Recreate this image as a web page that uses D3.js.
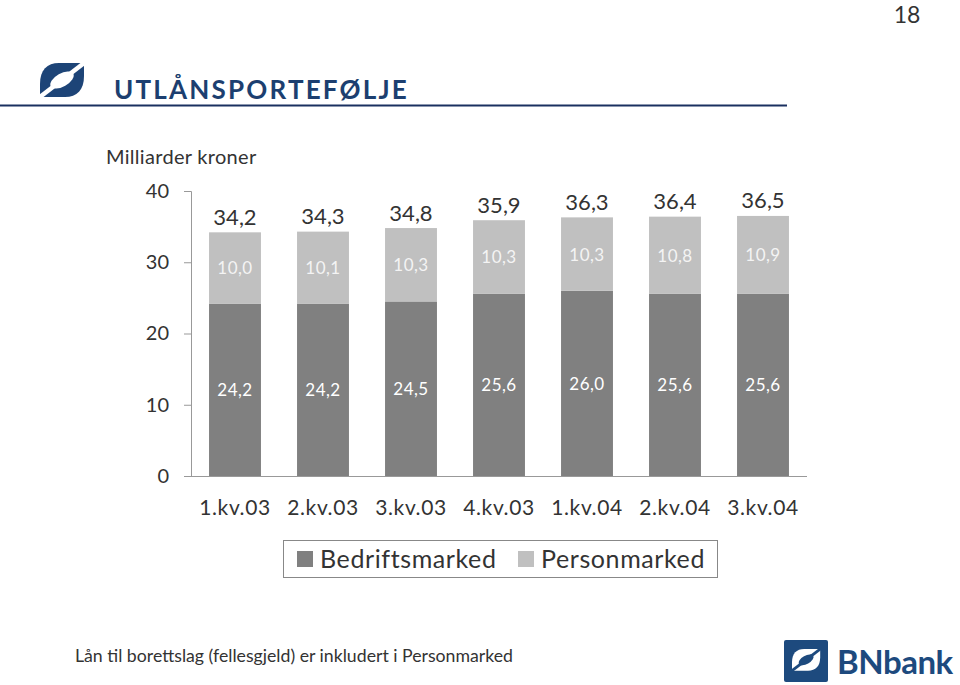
<!DOCTYPE html>
<html><head><meta charset="utf-8">
<script src="https://cdn.jsdelivr.net/npm/d3@7"></script>
<style>
body{margin:0;background:#fff;}
svg{display:block;}
text{font-family:Lato,"Open Sans",sans-serif;}
</style></head>
<body>
<svg id="c" width="960" height="685"></svg>
<script>
const categories = ["1.kv.03","2.kv.03","3.kv.03","4.kv.03","1.kv.04","2.kv.04","3.kv.04"];
const bedriftsmarked = [24.2,24.2,24.5,25.6,26.0,25.6,25.6];
const personmarked = [10.0,10.1,10.3,10.3,10.3,10.8,10.9];
const totals = [34.2,34.3,34.8,35.9,36.3,36.4,36.5];
const yTicks = [0,10,20,30,40];
const seriesNames = ["Bedriftsmarked","Personmarked"];
const colors = {"Bedriftsmarked":"#808080","Personmarked":"#c0c0c0"};
const fmt = v => d3.format(".1f")(v).replace(".", ",");

const svg = d3.select("#c");
const navy = "#1c3f70";
const defs = svg.append("defs");

// page number
svg.append("text").attr("x",907).attr("y",23).attr("text-anchor","middle")
  .attr("font-size",23).attr("fill","#333").text("18");

// logo symbol: oval ring with sharp top-right / bottom-left corners, split by a diagonal slash
function logo(g, fill, id){
  const m = defs.append("mask").attr("id",id).attr("maskUnits","userSpaceOnUse")
    .attr("x",-10).attr("y",-10).attr("width",70).attr("height",60);
  m.append("rect").attr("x",-10).attr("y",-10).attr("width",70).attr("height",60).attr("fill","#fff");
  m.append("ellipse").attr("cx",22).attr("cy",17).attr("rx",13).attr("ry",6.5)
    .attr("transform","rotate(-30,22,17)").attr("fill","#000");
  m.append("line").attr("x1",48).attr("y1",-3).attr("x2",-4).attr("y2",37)
    .attr("stroke","#000").attr("stroke-width",4.5);
  g.append("path")
    .attr("d","M44,0 L44,13 C44,27 37,34 25,34 L0,34 L0,21 C0,7 7,0 19,0 Z")
    .attr("fill",fill).attr("mask",`url(#${id})`);
}
logo(svg.append("g").attr("transform","translate(40,63)"), "#1d4477", "m1");

svg.append("text").attr("x",114).attr("y",99).attr("font-size",26).attr("font-weight","bold")
  .attr("fill",navy).attr("letter-spacing","2.2").text("UTLÅNSPORTEFØLJE");
svg.append("line").attr("x1",0).attr("x2",787).attr("y1",105.5).attr("y2",105.5)
  .attr("stroke","#1a3060").attr("stroke-width",2);

svg.append("text").attr("x",106).attr("y",164).attr("font-size",20).attr("fill","#333")
  .attr("letter-spacing","0.3").text("Milliarder kroner");

// chart
const x = d3.scaleBand().domain(categories).range([191,807]).paddingInner(0.41).paddingOuter(0.205);
const y = d3.scaleLinear().domain([0,40]).range([476,191]);

const yAxis = svg.append("g").attr("transform","translate(191,0)")
  .call(d3.axisLeft(y).tickValues(yTicks).tickSize(7).tickPadding(15).tickFormat(d3.format("d")));
yAxis.select(".domain").attr("stroke","#999").attr("d","M-7,191.5H0.5V476.5");
yAxis.selectAll(".tick line").attr("stroke","#999");
yAxis.selectAll(".tick text").attr("font-size",20).attr("fill","#333").attr("font-family","Lato,sans-serif");

const data = categories.map((c,i)=>({c, b:bedriftsmarked[i], p:personmarked[i], t:totals[i]}));

svg.append("g").selectAll("rect.b").data(data).join("rect")
  .attr("x",d=>x(d.c)).attr("width",x.bandwidth())
  .attr("y",d=>y(d.b)).attr("height",d=>y(0)-y(d.b)).attr("fill",colors.Bedriftsmarked);
svg.append("g").selectAll("rect.p").data(data).join("rect")
  .attr("x",d=>x(d.c)).attr("width",x.bandwidth())
  .attr("y",d=>y(d.b+d.p)).attr("height",d=>y(d.b)-y(d.b+d.p)).attr("fill",colors.Personmarked);

// x axis
const xAxis = svg.append("g").attr("transform","translate(0,476)")
  .call(d3.axisBottom(x).tickSize(0).tickPadding(24));
xAxis.select(".domain").attr("stroke","#999").attr("d","M191,0.5H807");
xAxis.selectAll(".tick text").attr("font-size",21).attr("fill","#333")
  .attr("font-family","Lato,sans-serif").attr("letter-spacing","0.6");

// labels
const lbl = svg.append("g").attr("text-anchor","middle").attr("dominant-baseline","central");
lbl.selectAll("text.t").data(data).join("text")
  .attr("x",d=>x(d.c)+x.bandwidth()/2).attr("y",d=>y(d.t)-16)
  .attr("font-size",22).attr("fill","#333").text(d=>fmt(d.t));
lbl.selectAll("text.p").data(data).join("text")
  .attr("x",d=>x(d.c)+x.bandwidth()/2).attr("y",d=>(y(d.b)+y(d.b+d.p))/2)
  .attr("font-size",17).attr("fill","#f4f4f4").attr("letter-spacing","0.5").text(d=>fmt(d.p));
lbl.selectAll("text.b").data(data).join("text")
  .attr("x",d=>x(d.c)+x.bandwidth()/2).attr("y",d=>(y(0)+y(d.b))/2)
  .attr("font-size",17).attr("fill","#fff").attr("letter-spacing","0.5").text(d=>fmt(d.b));

// legend
const lg = svg.append("g");
lg.append("rect").attr("x",283.5).attr("y",540.5).attr("width",434).attr("height",37)
  .attr("fill","#fff").attr("stroke","#888").attr("stroke-width",1);
const lx = [297, 518];
seriesNames.forEach((s,i)=>{
  lg.append("rect").attr("x",lx[i]).attr("y",551).attr("width",16).attr("height",16).attr("fill",colors[s]);
  lg.append("text").attr("x",lx[i]+23).attr("y",568).attr("font-size",25).attr("fill","#333")
    .attr("letter-spacing","0.6").text(s);
});

// footer
svg.append("text").attr("x",75).attr("y",662).attr("font-size",17.7).attr("fill","#333")
  .text("Lån til borettslag (fellesgjeld) er inkludert i Personmarked");

// BNbank logo
svg.append("rect").attr("x",784).attr("y",640).attr("width",44).attr("height",42).attr("rx",2).attr("fill","#1d4a7e");
logo(svg.append("g").attr("transform","translate(792,649) scale(0.64)"), "#fff", "m2");
svg.append("text").attr("x",837).attr("y",674).attr("font-size",33).attr("font-weight","bold")
  .attr("fill","#1d4a7e").attr("font-family","Roboto,Arial,sans-serif").attr("letter-spacing","-0.5").text("BNbank");
</script>
</body></html>
